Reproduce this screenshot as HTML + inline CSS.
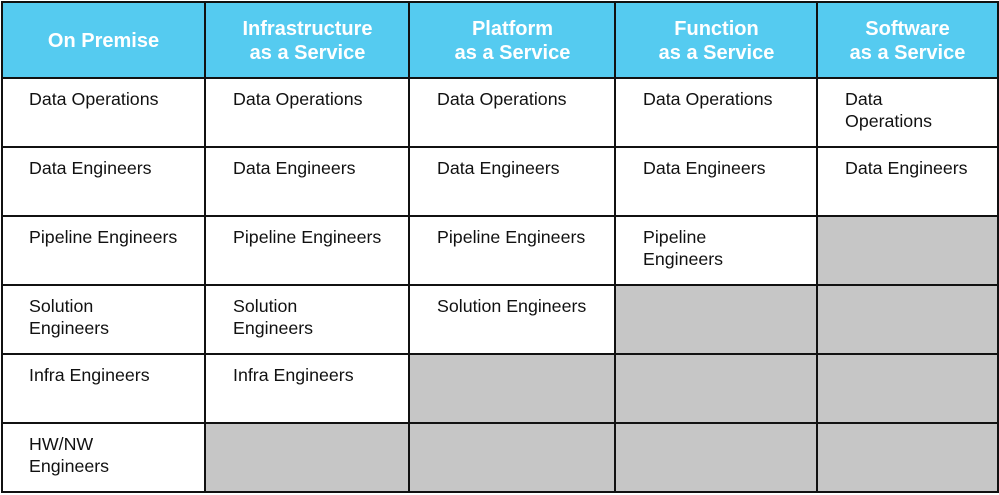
<!DOCTYPE html><html><head><style>
body{margin:0;width:999px;height:495px;background:#fff;position:relative;font-family:"Liberation Sans",Arial,sans-serif;overflow:hidden}
.c{position:absolute;box-sizing:border-box;font-size:17.8px;line-height:22px;color:#111;padding:9px 0 0 27px}
.h{position:absolute;box-sizing:border-box;background:#55cbf0;color:#fff;font-weight:bold;font-size:20px;line-height:24px;display:flex;align-items:center;justify-content:center;text-align:center;padding-top:2px}
.g{position:absolute;background:#c6c6c6}
.l{position:absolute;background:#111}
</style></head><body>
<div class="h" style="left:1px;top:1px;width:205px;height:78px">On Premise</div>
<div class="h" style="left:205px;top:1px;width:205px;height:78px">Infrastructure<br>as a Service</div>
<div class="h" style="left:409px;top:1px;width:207px;height:78px">Platform<br>as a Service</div>
<div class="h" style="left:615px;top:1px;width:203px;height:78px">Function<br>as a Service</div>
<div class="h" style="left:817px;top:1px;width:181px;height:78px">Software<br>as a Service</div>

<div class="g" style="left:818px;top:216px;width:180px;height:276px"></div>
<div class="g" style="left:616px;top:285px;width:202px;height:207px"></div>
<div class="g" style="left:410px;top:354px;width:206px;height:138px"></div>
<div class="g" style="left:206px;top:423px;width:204px;height:69px"></div>

<div class="c" style="left:2px;top:79px">Data Operations</div>
<div class="c" style="left:206px;top:79px">Data Operations</div>
<div class="c" style="left:410px;top:79px">Data Operations</div>
<div class="c" style="left:616px;top:79px">Data Operations</div>
<div class="c" style="left:818px;top:79px;width:120px">Data<br>Operations</div>

<div class="c" style="left:2px;top:148px">Data Engineers</div>
<div class="c" style="left:206px;top:148px">Data Engineers</div>
<div class="c" style="left:410px;top:148px">Data Engineers</div>
<div class="c" style="left:616px;top:148px">Data Engineers</div>
<div class="c" style="left:818px;top:148px">Data Engineers</div>

<div class="c" style="left:2px;top:217px">Pipeline Engineers</div>
<div class="c" style="left:206px;top:217px">Pipeline Engineers</div>
<div class="c" style="left:410px;top:217px">Pipeline Engineers</div>
<div class="c" style="left:616px;top:217px">Pipeline<br>Engineers</div>

<div class="c" style="left:2px;top:286px">Solution<br>Engineers</div>
<div class="c" style="left:206px;top:286px">Solution<br>Engineers</div>
<div class="c" style="left:410px;top:286px">Solution Engineers</div>

<div class="c" style="left:2px;top:355px">Infra Engineers</div>
<div class="c" style="left:206px;top:355px">Infra Engineers</div>

<div class="c" style="left:2px;top:424px">HW/NW<br>Engineers</div>

<div class="l" style="left:1px;top:1px;width:2px;height:492px"></div>
<div class="l" style="left:204px;top:1px;width:2px;height:492px"></div>
<div class="l" style="left:408px;top:1px;width:2px;height:492px"></div>
<div class="l" style="left:614px;top:1px;width:2px;height:492px"></div>
<div class="l" style="left:816px;top:1px;width:2px;height:492px"></div>
<div class="l" style="left:997px;top:1px;width:2px;height:492px"></div>
<div class="l" style="left:1px;top:1px;width:998px;height:2px"></div>
<div class="l" style="left:1px;top:77px;width:998px;height:2px"></div>
<div class="l" style="left:1px;top:146px;width:998px;height:2px"></div>
<div class="l" style="left:1px;top:215px;width:998px;height:2px"></div>
<div class="l" style="left:1px;top:284px;width:998px;height:2px"></div>
<div class="l" style="left:1px;top:353px;width:998px;height:2px"></div>
<div class="l" style="left:1px;top:422px;width:998px;height:2px"></div>
<div class="l" style="left:1px;top:491px;width:998px;height:2px"></div>
</body></html>
